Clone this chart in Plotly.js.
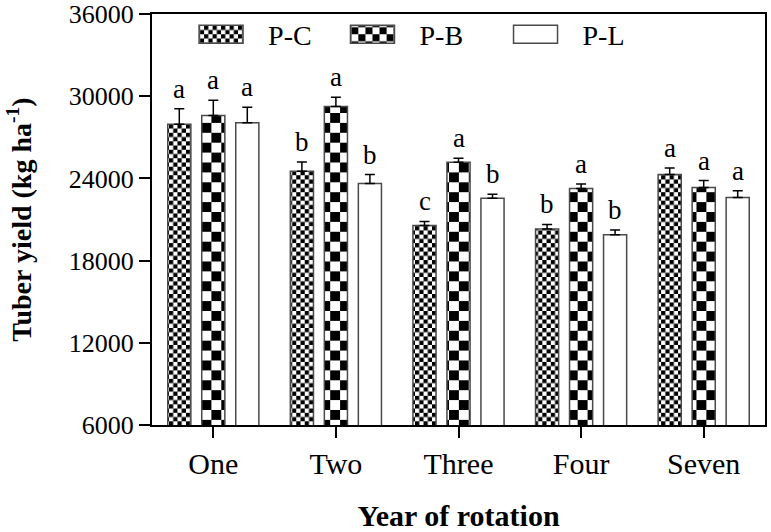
<!DOCTYPE html>
<html>
<head>
<meta charset="utf-8">
<script src="https://cdn.plot.ly/plotly-3.0.1.min.js"></script>
<style>html,body{margin:0;padding:0;background:#fff;}#chart{width:771px;height:532px;}</style>
</head>
<body>
<div id="chart"></div>
<script>
// ---- data ----
const categories = ['One', 'Two', 'Three', 'Four', 'Seven'];
const seriesNames = ['P-C', 'P-B', 'P-L'];
const pcYield = [27950, 24520, 20570, 20300, 24280];
const pbYield = [28600, 29250, 25180, 23260, 23330];
const plYield = [28060, 23620, 22560, 19890, 22610];
const pcErr = [1130, 680, 290, 340, 480];
const pbErr = [1110, 680, 290, 340, 510];
const plErr = [1140, 660, 290, 340, 480];
const pcLetters = ['a', 'b', 'c', 'b', 'a'];
const pbLetters = ['a', 'a', 'a', 'a', 'a'];
const plLetters = ['a', 'b', 'b', 'b', 'a'];
const yTicks = [6000, 12000, 18000, 24000, 30000, 36000];

// ---- styles ----
const FONT = 'Liberation Serif';
const BARGAP = 0.168;
const BARGROUPGAP = 0.32;
const patternSizes = [6, 14, 0];
const legendXs = [0.036, 0.283, 0.549];

const values = [pcYield, pbYield, plYield];
const errs = [pcErr, pbErr, plErr];
const letters = [pcLetters, pbLetters, plLetters];

const traces = values.map((v, k) => {
  const t = {
    type: 'bar',
    name: seriesNames[k],
    x: categories,
    y: v,
    legend: k === 0 ? 'legend' : 'legend' + (k + 1),
    marker: {
      color: '#ffffff',
      line: {color: '#4a4a4a', width: 1.5}
    },
    error_y: {
      type: 'data', symmetric: false, array: errs[k],
      arrayminus: errs[k].map(() => 0),
      color: '#000', thickness: 1.5, width: 5
    },
    hoverinfo: 'skip'
  };
  if (patternSizes[k]) {
    t.marker.pattern = {shape: '/', size: patternSizes[k], fgcolor: '#000', bgcolor: '#fff', solidity: 0.5};
  }
  return t;
});

const annotations = [];
const slot = (1 - BARGAP) / 3;
letters.forEach((arr, k) => {
  arr.forEach((txt, i) => {
    annotations.push({
      x: i + (k - 1) * slot, y: values[k][i] + errs[k][i],
      xref: 'x', yref: 'y', text: txt, showarrow: false,
      xanchor: 'center', yanchor: 'bottom', yshift: 3,
      font: {family: FONT, size: 27, color: '#000'}
    });
  });
});

function mkLegend(xp) {
  return {
    x: xp, y: 0.95, xanchor: 'left', yanchor: 'middle',
    orientation: 'h', bgcolor: 'rgba(0,0,0,0)', borderwidth: 0,
    itemwidth: 84, font: {family: FONT, size: 28, color: '#000'}
  };
}

const layout = {
  width: 771, height: 532,
  margin: {l: 152, r: 6, t: 14, b: 107},
  paper_bgcolor: '#fff', plot_bgcolor: '#fff',
  barmode: 'group', bargap: BARGAP, bargroupgap: BARGROUPGAP,
  showlegend: true,
  legend: mkLegend(legendXs[0]),
  legend2: mkLegend(legendXs[1]),
  legend3: mkLegend(legendXs[2]),
  font: {family: FONT, color: '#000'},
  xaxis: {
    type: 'category', range: [-0.5, 4.5],
    showline: true, linecolor: '#000', linewidth: 2, mirror: true,
    ticks: 'outside', ticklen: 11, tickwidth: 2, tickcolor: '#000',
    showgrid: false, zeroline: false,
    tickfont: {family: FONT, size: 30, color: '#000'},
    title: {text: '<b>Year of rotation</b>', font: {family: FONT, size: 30, color: '#000'}, standoff: 42}
  },
  yaxis: {
    range: [6000, 36000], tickvals: yTicks, ticktext: yTicks.map(String),
    ticklabeloverflow: 'allow',
    showline: true, linecolor: '#000', linewidth: 2, mirror: true,
    ticks: 'outside', ticklen: 11, tickwidth: 2, tickcolor: '#000',
    showgrid: false, zeroline: false,
    tickfont: {family: FONT, size: 26, color: '#000'},
    title: {text: '<b>Tuber yield (kg ha<sup>-1</sup>)</b>', font: {family: FONT, size: 28, color: '#000'}, standoff: 29}
  },
  annotations: annotations
};

function checker(gd) {
  const ns = 'http://www.w3.org/2000/svg';
  gd.querySelectorAll('pattern').forEach(p => {
    if (p.getAttribute('data-checker')) return;
    const w = parseFloat(p.getAttribute('width'));
    if (!w) return;
    while (p.firstChild) p.removeChild(p.firstChild);
    p.removeAttribute('patternTransform');
    p.setAttribute('width', w); p.setAttribute('height', w);
    p.setAttribute('data-checker', '1');
    const h = w / 2;
    const mk = (x, y, s, fill) => {
      const r = document.createElementNS(ns, 'rect');
      r.setAttribute('x', x); r.setAttribute('y', y);
      r.setAttribute('width', s); r.setAttribute('height', s);
      r.setAttribute('fill', fill); p.appendChild(r);
    };
    mk(0, 0, w, '#fff'); mk(0, 0, h, '#000'); mk(h, h, h, '#000');
  });
  gd.querySelectorAll('.legendpoints path').forEach(el => {
    el.setAttribute('d', 'M22,9H-22V-9H22Z');
    el.style.strokeWidth = '1.5px';
  });
}

Plotly.newPlot('chart', traces, layout, {staticPlot: true, displayModeBar: false}).then(gd => {
  checker(gd);
  setTimeout(() => checker(gd), 50);
  gd.on('plotly_afterplot', () => checker(gd));
});
</script>
</body>
</html>
